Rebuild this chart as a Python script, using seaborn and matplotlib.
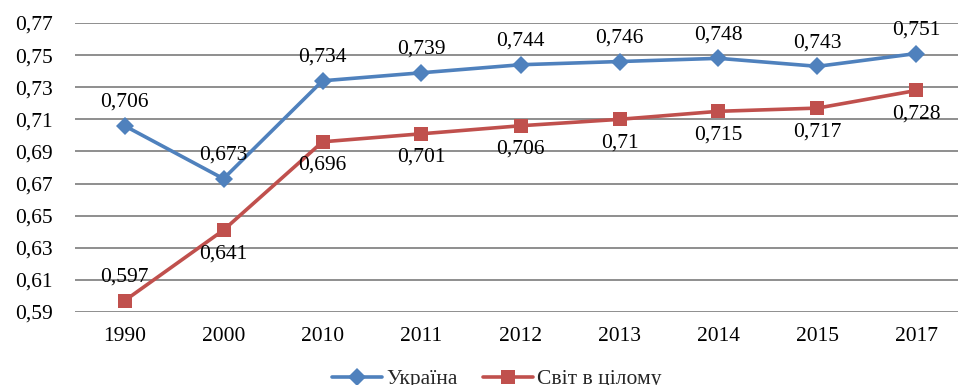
import matplotlib
matplotlib.use("Agg")
import matplotlib.pyplot as plt
import matplotlib.ticker as mticker
from matplotlib.lines import Line2D
import seaborn as sns
import pandas as pd

years = ["1990", "2000", "2010", "2011", "2012", "2013", "2014", "2015", "2017"]
ukraine = [0.706, 0.673, 0.734, 0.739, 0.744, 0.746, 0.748, 0.743, 0.751]
world = [0.597, 0.641, 0.696, 0.701, 0.706, 0.710, 0.715, 0.717, 0.728]
series_names = ["Україна", "Світ в цілому"]
y_ticks = [0.59, 0.61, 0.63, 0.65, 0.67, 0.69, 0.71, 0.73, 0.75, 0.77]

# label placement: +1 above the point, -1 below
ukraine_side = [1, 1, 1, 1, 1, 1, 1, 1, 1]
world_side = [1, -1, -1, -1, -1, -1, -1, -1, -1]

sns.set_theme(style="white")
plt.rcParams["font.family"] = ["Liberation Serif", "DejaVu Serif"]

blue = "#4F81BD"
red = "#C0504D"
FS = 15.5

df = pd.DataFrame({
    "year": years * 2,
    "pos": list(range(len(years))) * 2,
    "value": ukraine + world,
    "series": [series_names[0]] * len(years) + [series_names[1]] * len(years),
})

fig = plt.figure(figsize=(9.58, 3.85), dpi=100)
W, H = 958, 385
ax = fig.add_axes([75 / W, (H - 312) / H, 891 / W, (312 - 23) / H])

sns.lineplot(data=df, x="pos", y="value", hue="series", style="series",
             palette=[blue, red], markers=["D", "s"], dashes=False,
             markersize=9, linewidth=2.6, markeredgewidth=0,
             ax=ax, legend=False)
# the square markers are drawn a bit larger than the diamonds
ax.lines[1].set_markersize(10.5)

ax.set_xlim(-0.5, len(years) - 0.5)
ax.set_ylim(0.59, 0.77)
ax.set_yticks(y_ticks)
ax.yaxis.set_major_formatter(mticker.FuncFormatter(lambda v, p: f"{v:.2f}".replace(".", ",")))
ax.set_xticks(range(len(years)))
ax.set_xticklabels(years)
ax.set_xlabel("")
ax.set_ylabel("")
ax.grid(axis="y", color="#868686", linewidth=1.3)
ax.grid(axis="x", visible=False)
ax.set_axisbelow(True)
for s in ax.spines.values():
    s.set_visible(False)
ax.tick_params(axis="both", length=0, labelsize=FS, colors="black")
ax.tick_params(axis="y", pad=16)
ax.tick_params(axis="x", pad=11)

def fmt(v):
    s = f"{v:.3f}".rstrip("0")
    return s.replace(".", ",")

for vals, sides in ((ukraine, ukraine_side), (world, world_side)):
    for i, (v, sd) in enumerate(zip(vals, sides)):
        ax.annotate(fmt(v), (i, v), xytext=(0, 17 * sd), textcoords="offset points",
                    ha="center", va="center", fontsize=FS, color="black",
                    annotation_clip=False)

handles = [
    Line2D([], [], color=blue, marker="D", markersize=9, linewidth=2.6, markeredgewidth=0),
    Line2D([], [], color=red, marker="s", markersize=10.5, linewidth=2.6, markeredgewidth=0),
]
fig.legend(handles, series_names, loc="center", bbox_to_anchor=(497 / W, (H - 379) / H),
           ncol=2, frameon=False, fontsize=FS, handlelength=2.3, columnspacing=1.2,
           handletextpad=0.2)

fig.savefig("out.png", dpi=100)
